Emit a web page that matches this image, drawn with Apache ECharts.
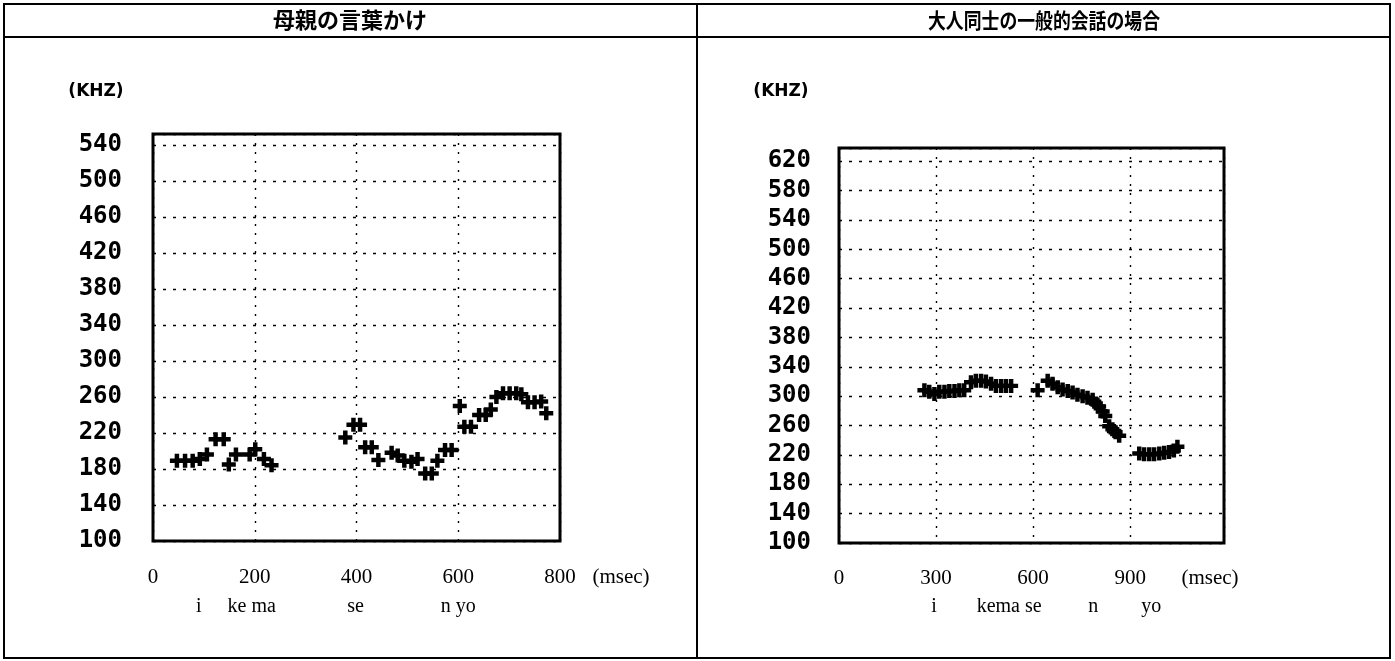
<!DOCTYPE html>
<html><head><meta charset="utf-8">
<script src="https://cdn.jsdelivr.net/npm/echarts@6/dist/echarts.min.js"></script>
<style>html,body{margin:0;padding:0;background:#fff}#c{width:1395px;height:661px}</style>
</head><body><div id="c"></div>
<script>
// ---- data ----
const titles = ['母親の言葉かけ', '大人同士の一般的会話の場合'];
const yUnit = '(KHZ)';
const xUnit = '(msec)';

// left panel: mother's speech (time ms, frequency)
const leftTimes = [47, 63, 78, 92, 106, 123, 139, 149, 163, 190, 201, 218, 233,
  378, 394, 407, 417, 430, 443, 469, 481, 494, 508, 520, 535, 548, 559, 574, 587,
  603, 612, 625, 641, 654, 664, 675, 688, 701, 714, 724, 737, 750, 763, 773];
const leftFreqs = [189, 189, 189, 191, 196, 213, 213, 185, 196, 196, 202, 191, 184,
  215, 229, 229, 204, 204, 190, 198, 195, 189, 188, 191, 175, 175, 189, 201, 201,
  250, 227, 227, 240, 240, 246, 260, 264, 264, 264, 263, 254, 254, 255, 242];

// right panel: adult conversation
const rightTimes = [264, 279, 295, 310, 326, 341, 357, 372, 387,
  408, 423, 439, 454, 470, 485, 501, 516, 532,
  614, 645, 660, 676, 691, 707, 722, 737, 753, 768, 784, 794, 804, 815, 823,
  835, 845, 855, 866,
  928, 943, 959, 974, 990, 1005, 1020, 1035, 1046];
const rightFreqs = [308, 306, 303, 306, 306, 307, 307, 308, 308,
  319, 321, 321, 320, 317, 314, 314, 314, 314,
  308, 321, 317, 312, 309, 307, 305, 302, 300, 298, 295, 290, 286, 279, 273,
  259, 255, 251, 246,
  222, 221, 221, 221, 222, 223, 224, 226, 231];

const leftXTicks = { min: 0, max: 800, step: 200 };
const leftYTicks = { min: 100, max: 552, step: 40 };
const rightXTicks = { min: 0, max: 1190, step: 300 };
const rightYTicks = { min: 100, max: 638, step: 40 };

const leftSyllables = ['i', 'ke ma', 'se', 'n yo'];
const leftSyllableAt = [90, 194, 398, 600];
const rightSyllables = ['i', 'kema se', 'n', 'yo'];
const rightSyllableAt = [294, 526, 786, 965];

// ---- chart ----
const plus = 'path://M3.4,0H6.6V3.4H10V6.6H6.6V10H3.4V6.6H0V3.4H3.4Z';
const dotH = { color: '#000', width: 1.4, type: [3, 7] };
const dotV = { color: '#000', width: 1.4, type: [2, 7] };
const yLabel = {
  fontFamily: '"DejaVu Sans Mono","Liberation Mono",monospace',
  fontWeight: 'bold', fontSize: 24, color: '#000', showMaxLabel: false
};
const xLabel = {
  fontFamily: '"Liberation Serif","DejaVu Serif",serif', fontSize: 21, color: '#000'
};

function xAxis(t, grid, margin, showMax) {
  return {
    type: 'value', gridIndex: grid, min: t.min, max: t.max, interval: t.step,
    axisLine: { show: false }, axisTick: { show: false },
    splitLine: { show: true, lineStyle: dotV },
    axisLabel: Object.assign({}, xLabel, { margin: margin, showMaxLabel: showMax })
  };
}
function yAxis(t, grid, margin) {
  return {
    type: 'value', gridIndex: grid, min: t.min, max: t.max, interval: t.step,
    axisLine: { show: false }, axisTick: { show: false },
    splitLine: { show: true, lineStyle: dotH },
    axisLabel: Object.assign({}, yLabel, { margin: margin })
  };
}

const chart = echarts.init(document.getElementById('c'), null, { renderer: 'canvas' });
const frame = { show: true, borderColor: '#000', borderWidth: 3, backgroundColor: 'transparent' };
const markStyle = { color: '#000', opacity: 1 };
chart.setOption({
  animation: false,
  backgroundColor: '#fff',
  grid: [
    Object.assign({ left: 153, top: 134, width: 407, height: 407 }, frame),
    Object.assign({ left: 839, top: 148, width: 385, height: 395 }, frame)
  ],
  xAxis: [xAxis(leftXTicks, 0, 26, true), xAxis(rightXTicks, 1, 25, false)],
  yAxis: [yAxis(leftYTicks, 0, 31), yAxis(rightYTicks, 1, 28)],
  series: [
    { type: 'scatter', xAxisIndex: 0, yAxisIndex: 0, symbol: plus, symbolSize: 14,
      itemStyle: markStyle, data: leftTimes.map((t, i) => [t, leftFreqs[i]]) },
    { type: 'scatter', xAxisIndex: 1, yAxisIndex: 1, symbol: plus, symbolSize: 14,
      itemStyle: markStyle, data: rightTimes.map((t, i) => [t, rightFreqs[i]]) }
  ]
});

// table frame, headers, units, syllables
const serif = '"Liberation Serif","DejaVu Serif",serif';
const g = [
  { type: 'rect', shape: { x: 4, y: 4, width: 1386, height: 654 }, style: { fill: null, stroke: '#000', lineWidth: 2 }, silent: true },
  { type: 'line', shape: { x1: 4, y1: 37, x2: 1390, y2: 37 }, style: { stroke: '#000', lineWidth: 2 } },
  { type: 'line', shape: { x1: 697, y1: 4, x2: 697, y2: 658 }, style: { stroke: '#000', lineWidth: 2 } },
  { type: 'text', x: 350, y: 20, style: { text: titles[0], font: 'bold 22px "Noto Sans CJK JP"', fill: '#000', align: 'center', verticalAlign: 'middle' } },
  { type: 'text', x: 1044, y: 20, scaleX: 0.85, style: { text: titles[1], font: 'bold 21px "Noto Sans CJK JP"', fill: '#000', align: 'center', verticalAlign: 'middle' } },
  { type: 'text', x: 96, y: 92, style: { text: yUnit, font: 'bold 17px "DejaVu Sans"', fill: '#000', align: 'center', verticalAlign: 'middle' } },
  { type: 'text', x: 781, y: 92, style: { text: yUnit, font: 'bold 17px "DejaVu Sans"', fill: '#000', align: 'center', verticalAlign: 'middle' } },
  { type: 'text', x: 621, y: 577, style: { text: xUnit, font: '21px ' + serif, fill: '#000', align: 'center', verticalAlign: 'middle' } },
  { type: 'text', x: 1210, y: 578, style: { text: xUnit, font: '21px ' + serif, fill: '#000', align: 'center', verticalAlign: 'middle' } }
];
leftSyllables.forEach((s, i) => {
  const x = chart.convertToPixel({ xAxisIndex: 0 }, leftSyllableAt[i]);
  g.push({ type: 'text', x: x, y: 607, style: { text: s, font: '20px ' + serif, fill: '#000', align: 'center', verticalAlign: 'middle' } });
});
rightSyllables.forEach((s, i) => {
  const x = chart.convertToPixel({ xAxisIndex: 1 }, rightSyllableAt[i]);
  g.push({ type: 'text', x: x, y: 607, style: { text: s, font: '20px ' + serif, fill: '#000', align: 'center', verticalAlign: 'middle' } });
});
chart.setOption({ graphic: g });
</script>
</body></html>
